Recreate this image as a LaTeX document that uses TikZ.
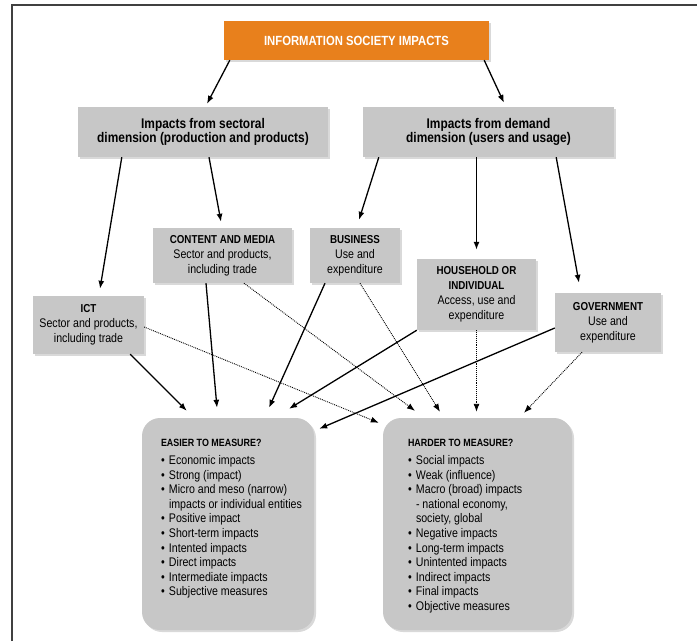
\documentclass[tikz,border=0pt]{standalone}
\usepackage{fontspec}
\setmainfont{Liberation Sans}[FakeStretch=0.85]
\usepackage{tikz}
\usetikzlibrary{
    arrows.meta,
    shadows,
    positioning
}

\definecolor{isorange}{HTML}{E8801C}
\definecolor{boxgrey}{HTML}{C7C7C7}

\newcommand{\hd}[2][11.5]{{\fontsize{#1}{15}\selectfont\bfseries #2}}
\newcommand{\itm}[1]{\makebox[8pt][l]{\textbullet}#1}
\newcommand{\cnt}[1]{\hspace*{8pt}#1}

\tikzset{
    >={Latex[length=8pt,width=6pt]},
    boxshade/.style={drop shadow={shadow xshift=2pt, shadow yshift=-2pt, opacity=0.3}},
    titlebox/.style={fill=isorange, text=white, font=\fontsize{13.3}{15}\selectfont\bfseries,
        minimum width=265pt, minimum height=39pt, inner sep=0pt, boxshade},
    dimbox/.style={fill=boxgrey, font=\fontsize{14}{14.5}\selectfont\bfseries, align=center,
        minimum width=250pt, minimum height=50pt, inner sep=0pt, boxshade},
    areabox/.style={fill=boxgrey, font=\fontsize{12.5}{15}\selectfont, align=center,
        inner sep=0pt, boxshade},
    measurebox/.style={fill=boxgrey, rounded corners=18pt, minimum height=212pt,
        inner sep=0pt, boxshade},
    measuretext/.style={font=\fontsize{12.5}{14.6}\selectfont, align=left, inner sep=0pt},
    strong/.style={->, line width=1.3pt},
    weak/.style={->, densely dotted, line width=0.9pt}
}

\begin{document}
\begin{tikzpicture}[x=1pt, y=1pt]
    \useasboundingbox (0, 0) rectangle (697, -641);
    \draw[line width=1.5pt, black!75] (12, -641) -- (12, -5) -- (697, -5);

    \node[titlebox] (title) at (356.5, -40.5) {INFORMATION SOCIETY IMPACTS};
    \node[dimbox] (sector) at (203, -132) {Impacts from sectoral\\dimension (production and products)};
    \node[dimbox, minimum width=251pt] (demand) at (488.5, -132) {Impacts from demand\\dimension (users and usage)};

    \node[areabox, minimum width=139pt, minimum height=55pt] (content) at (222.5, -255.5)
        {\hd{CONTENT AND MEDIA}\\Sector and products,\\including trade};
    \node[areabox, minimum width=90pt, minimum height=55pt] (business) at (355, -255.5)
        {\hd{BUSINESS}\\Use and\\expenditure};
    \node[areabox, minimum width=119pt, minimum height=71pt] (household) at (476.5, -294.5)
        {\hd{HOUSEHOLD OR}\\\hd{INDIVIDUAL}\\Access, use and\\expenditure};
    \node[areabox, minimum width=111pt, minimum height=58pt] (ict) at (88.5, -325)
        {\hd{ICT}\\Sector and products,\\including trade};
    \node[areabox, minimum width=106pt, minimum height=59pt] (government) at (608, -322.5)
        {\hd{GOVERNMENT}\\Use and\\expenditure};

    \node[measurebox, minimum width=172pt] (easier) at (228, -524) {};
    \node[measurebox, minimum width=189pt] (harder) at (477.5, -524) {};

    \node[measuretext, anchor=north west, below right=21pt and 19pt of easier.north west] (easiertxt)
        {\hd[10.5]{EASIER TO MEASURE?}\\[3.5pt]
        \itm{Economic impacts}\\
        \itm{Strong (impact)}\\
        \itm{Micro and meso (narrow)}\\
        \cnt{impacts or individual entities}\\
        \itm{Positive impact}\\
        \itm{Short-term impacts}\\
        \itm{Intented impacts}\\
        \itm{Direct impacts}\\
        \itm{Intermediate impacts}\\
        \itm{Subjective measures}};
    \node[measuretext, anchor=north west, below right=21pt and 25pt of harder.north west] (hardertxt)
        {\hd[10.5]{HARDER TO MEASURE?}\\[3.5pt]
        \itm{Social impacts}\\
        \itm{Weak (influence)}\\
        \itm{Macro (broad) impacts}\\
        \cnt{- national economy,}\\
        \cnt{society, global}\\
        \itm{Negative impacts}\\
        \itm{Long-term impacts}\\
        \itm{Unintented impacts}\\
        \itm{Indirect impacts}\\
        \itm{Final impacts}\\
        \itm{Objective measures}};

    \draw
    ([xshift=6pt]title.south west) edge[strong] ([xshift=4pt, yshift=3pt]sector.north)
    ([xshift=-5pt]title.south east) edge[strong] ([xshift=15.5pt, yshift=4pt]demand.north)
    ([xshift=44pt]sector.south west) edge[strong] ([xshift=11.5pt, yshift=7pt]ict.north)
    ([xshift=6pt]sector.south) edge[strong] ([xshift=-1.5pt, yshift=6pt]content.north)
    ([xshift=16pt]demand.south west) edge[strong] ([xshift=4pt, yshift=8pt]business.north)
    ([xshift=-12pt]demand.south) edge[strong] ([yshift=9pt]household.north)
    ([xshift=-58pt]demand.south east) edge[strong] ([xshift=-29pt, yshift=10pt]government.north)
    ([xshift=-14pt]ict.south east) edge[strong] ([xshift=45pt, yshift=7pt]easier.north west)
    ([yshift=-2pt]ict.east) edge[weak] ([xshift=-4pt, yshift=-5pt]harder.north west)
    ([xshift=-16.5pt]content.south) edge[strong] ([xshift=-11pt, yshift=10pt]easier.north)
    ([xshift=21.5pt]content.south) edge[weak] ([xshift=-62.5pt, yshift=7pt]harder.north)
    ([xshift=-30pt]business.south) edge[strong] ([xshift=41pt, yshift=10pt]easier.north)
    ([xshift=5pt]business.south) edge[weak] ([xshift=-37.5pt, yshift=6pt]harder.north)
    (household.south west) edge[strong] ([xshift=61pt, yshift=9pt]easier.north)
    (household.south) edge[weak] ([xshift=-1pt, yshift=6pt]harder.north)
    ([yshift=-5.5pt]government.west) edge[strong] ([xshift=5pt, yshift=-11pt]easier.north east)
    ([xshift=-26pt]government.south) edge[weak] ([xshift=46.5pt, yshift=5pt]harder.north);
\end{tikzpicture}
\end{document}
